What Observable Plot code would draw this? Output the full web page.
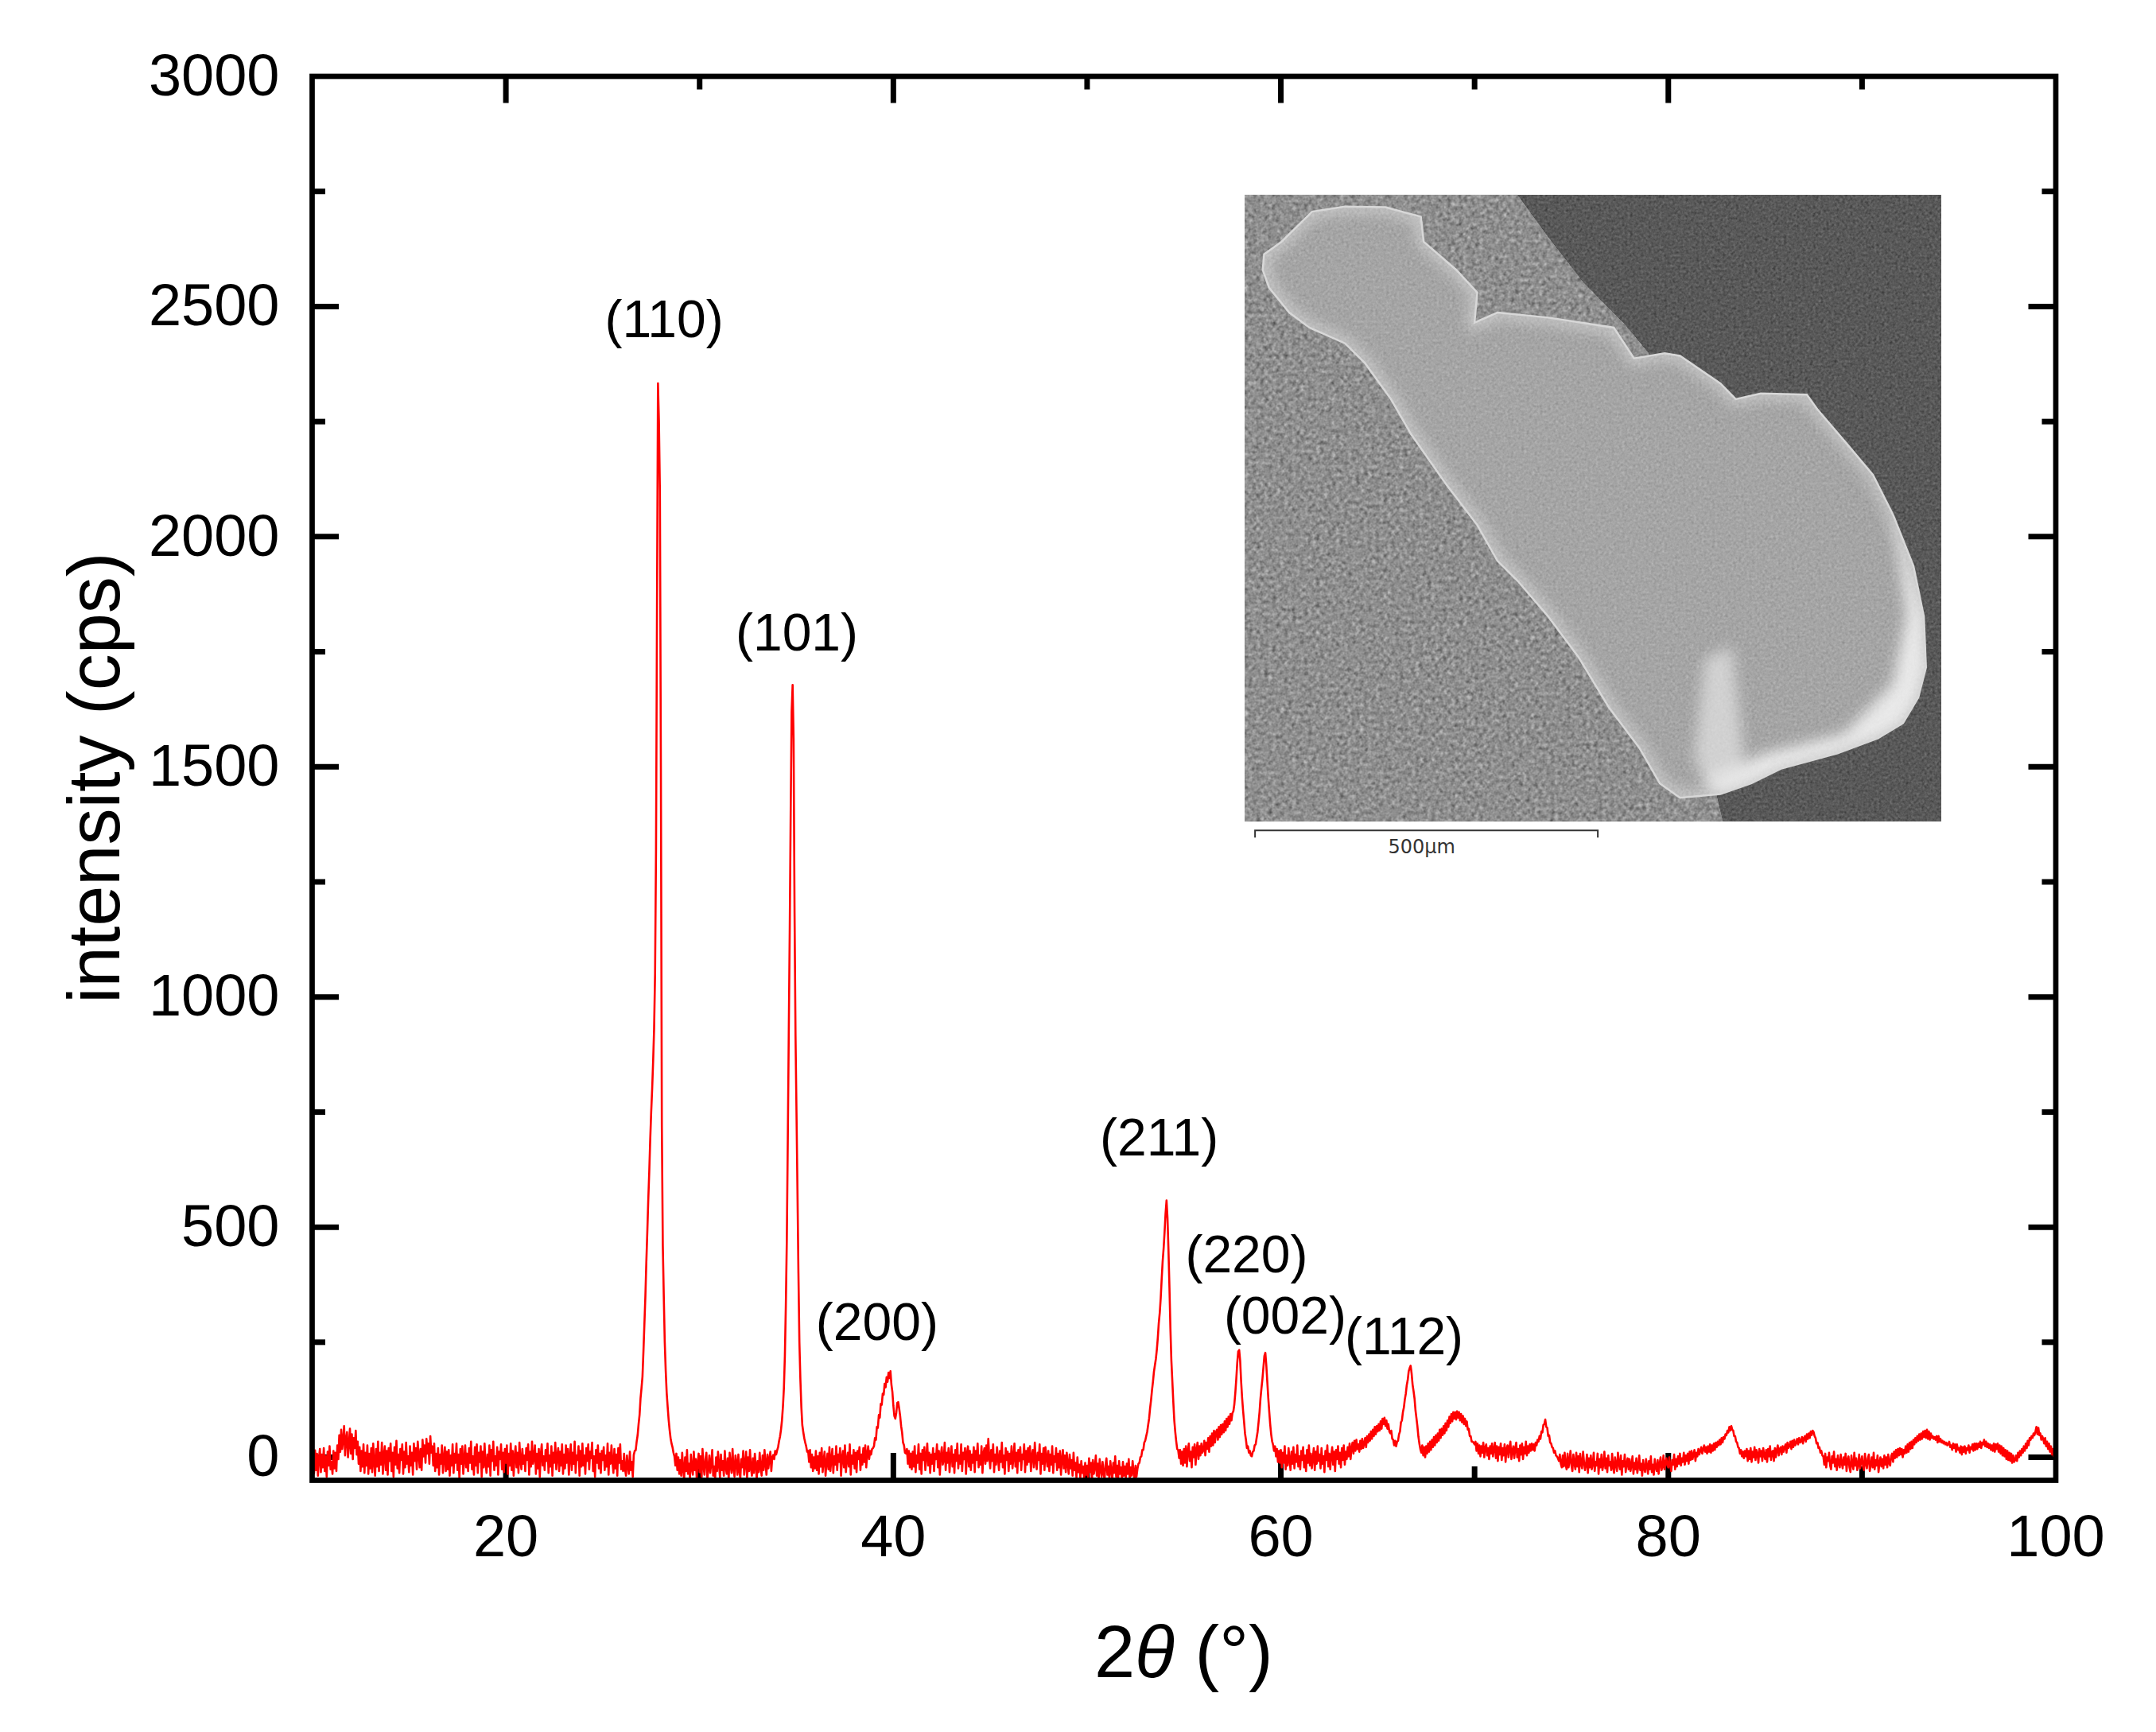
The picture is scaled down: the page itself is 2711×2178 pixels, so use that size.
<!DOCTYPE html>
<html>
<head>
<meta charset="utf-8">
<script src="https://cdn.jsdelivr.net/npm/d3@7"></script>
<script src="https://cdn.jsdelivr.net/npm/@observablehq/plot@0.6"></script>
<style>
  html, body { margin: 0; padding: 0; background: #ffffff; }
  svg { display: block; }
</style>
</head>
<body>
<script>
// ---------- data ----------
// XRD scan: 2θ from 10° to 100° in steps of 0.05°, intensity in cps.
const scanStart = 10;
const scanStep = 0.05;

const counts10 = [
  -45, 5, -35, 15, -28, 8, -40, -2, 18, -32, 6, -22, 20, -30, 2, -42, 12, -18, 24, -26,
  -10, -36, 14, -24, 10, -30, 26, -4, 48, 12, 60, 18, 38, 68, 4, 40, 55, 0, 30, 62,
  8, 50, -4, 42, 20, 58, 6, 34, -14, 22, -30, 14, -20, 28, -34, 10, -18, 26, -36, 8,
  -24, 20, -32, 30, -10, -40, 18, -20, 34, -30, 10, -16, 32, -36, 4, 24, -28, 14, -38, 20,
  -8, 30, -30, 10, -42, 22, -16, 36, -24, 6, -34, 18, -6, 28, -36, 12, -22, 32, -14, 2,
  -32, 24, -18, 10, -38, 30, -8, 20, -26, 34, 6, -22, 18, -28, 38, 2, 26, -12, 40, 8,
  30, -14, 46, 10, 24, -18, 30, -30, 8, -22, 20, -38, 6, -14, 26, -34, -2, 22, -30, 12,
  -26, 16, -40, 4, -18, 28, -34, 8, -12, 30, -28, 6, -45, 18, -14, 24, -36, -4, 26, -22,
  8, -30, 20, -12, 34, -26, 2, -38, 22, -18, 28, -34, 10, -10, 24, -42, 12, -22, 30, -14,
  -34, 6, -20, 26, -40, 16, -8, 34, -28, 2, -18, 22, -38, 12, -4, 28, -26, 10, -32, 18
];
const counts20 = [
  -12, 26, -36, 8, -18, 30, -28, 14, -40, 2, 24, -22, 10, -34, 32, -8, -26, 18, -14, 4,
  -30, 20, -6, 28, -38, 12, -20, 34, -14, -2, 26, -36, 8, -24, 18, -42, 6, 28, -18, 2,
  -28, 16, -8, 30, -34, 4, -20, 24, -40, 10, -12, 32, -26, 2, 20, -30, 12, -18, 28, -36,
  6, -24, 26, -12, 18, -38, 2, 28, -28, 10, -14, 34, -34, 4, -6, 24, -40, 14, -20, 30,
  -18, 4, -36, 20, -8, 28, -26, 12, -2, 32, -30, 2, -42, 16, -12, 26, -24, 8, -34, 14,
  -6, 22, -28, 4, -20, 30, -38, 10, -14, 26, -10, -34, 18, -24, 6, -40, 20, -12, 28, -26,
  -8, -30, 8, -26, -40, 4, -20, -36, 12, -28, -10, -42, 5, 14, 15, 34, 48, 72, 92, 128,
  150, 175, 230, 290, 350, 425, 490, 560, 620, 690, 750, 800, 860, 930, 1050, 1320, 1850, 2333, 2250, 2100,
  1500, 720, 460, 350, 250, 188, 140, 110, 82, 60, 42, 30, 22, 10, 2, -18, 8, -28, 0, -36,
  -6, -40, 10, -26, -48, 0, -30, 16, -36, -14, -45, 6, -24, -38, 12, -28, -4, -46, -12, 8
];
const counts30 = [
  -32, 2, -42, 18, -20, -38, -4, 10, -46, -24, 4, -34, -12, 16, -40, -20, -48, 0, -30, 12,
  -14, -44, 6, -28, -8, -40, 14, -22, -36, -2, -48, 10, -18, -34, 18, -24, -42, 4, -12, -38,
  6, -28, -46, -4, -22, 14, -38, -14, 12, -44, 0, -30, 16, -24, -40, -2, -34, 8, -18, -48,
  -8, -32, 10, -22, -40, 4, -28, 16, -14, -38, 6, -24, -4, 12, -30, 0, 5, -4, 14, 6,
  15, 22, 35, 45, 60, 80, 110, 150, 220, 330, 470, 685, 916, 1140, 1400, 1620, 1678, 1560, 1182, 916,
  750, 580, 400, 250, 170, 110, 70, 55, 42, 32, 24, 12, 14, -10, 16, -22, 6, -30, 0, -24,
  14, -28, 2, -36, 10, -20, 20, -32, -6, 12, -40, -12, 8, -26, 22, -30, -4, 18, -34, 2,
  -16, 24, -28, 6, -10, 20, -40, 0, 14, -22, 26, -32, -6, 10, -20, 28, -38, 4, -14, 16,
  -24, 10, -32, 14, -4, 22, -28, 6, -16, 20, -10, 26, -22, 8, 24, -4, 14, 6, 18, 20,
  24, 42, 38, 66, 64, 92, 86, 116, 114, 138, 136, 160, 152, 174, 164, 184, 172, 187, 158, 142
];
const counts40 = [
  112, 90, 84, 96, 118, 120, 106, 90, 68, 54, 32, 26, 10, 8, 18, -14, 14, -22, 8, -26,
  12, -20, 24, -32, 4, -12, 28, -26, 8, -36, 16, -6, 22, -28, 2, 30, -18, 10, -34, 6,
  -14, 20, -30, 8, -4, 28, -22, 14, -38, 4, 22, -16, -6, 32, -28, 10, -12, 20, -32, 2,
  24, -20, 6, -34, 16, -8, 30, -24, 4, -14, 28, -30, 10, -4, 20, -36, 8, 24, -20, 14,
  -28, 6, -12, 22, -32, 14, -6, 30, -22, 4, -16, 24, -34, 8, 20, -14, 26, -8, 40, 0,
  -24, 16, -8, 28, -32, 6, -16, 22, -2, -28, 14, -10, 32, -22, 4, -36, 20, -6, 12, -30,
  8, -14, 24, -24, 0, 30, -20, 10, -34, 16, -8, 22, -28, 6, -4, 28, -32, 14, -16, 20,
  -10, 24, -30, 4, 16, -22, 32, -8, -26, 10, -6, 28, -36, 8, -14, 20, -28, 22, 0, -20,
  14, -30, 6, -16, 24, -34, 2, -10, 20, -28, 8, -22, 14, -38, -4, 16, -24, 4, -32, 10,
  -14, -36, 6, -24, -6, -40, 10, -28, -12, -44, 0, -32, -16, -46, -8, -34, -20, -48, -12, -38
];
const counts50 = [
  -18, -44, -2, -32, -12, -48, -6, -36, -22, 4, -40, -14, -46, -4, -28, -42, -10, -34, -48, -16,
  -2, -38, -20, -46, -8, -30, -48, -12, -34, 2, -42, -18, -48, -8, -36, -22, -48, -10, -40, -20,
  -44, -14, -36, -4, -48, -22, -40, -8, -32, -48, -18, -42, -25, -14, -12, 0, 2, 16, 16, 32,
  36, 46, 55, 70, 84, 106, 124, 146, 164, 186, 200, 214, 234, 260, 292, 314, 346, 388, 426, 454,
  490, 530, 558, 520, 450, 370, 280, 210, 165, 120, 80, 55, 35, 18, 16, -2, 16, -14, 12, -18,
  18, -12, 24, -20, 14, 30, -8, 12, -22, 22, 0, 28, -16, 16, 32, -4, 24, 4, 30, 10,
  16, 36, 4, 32, 18, 42, 12, 46, 24, 52, 26, 58, 32, 54, 60, 38, 66, 44, 70, 50,
  72, 54, 78, 58, 84, 66, 88, 72, 94, 80, 96, 100, 115, 140, 170, 205, 230, 233, 210, 165,
  130, 102, 78, 52, 38, 20, 24, 10, 14, 4, 2, 12, 14, 26, 28, 42, 55, 76, 98, 128,
  150, 170, 195, 220, 227, 200, 165, 130, 100, 72, 50, 35, 27, 14, 24, 2, 18, -10, 14, -12
];
const counts60 = [
  16, -22, 10, -12, 24, -26, 4, -18, 20, -6, -28, 12, -14, 22, -24, 6, -10, 26, -20, 2,
  -26, 14, -6, 22, -22, 4, -30, 16, -12, 26, -18, 8, -24, -2, 20, -28, 12, -14, 24, -8,
  6, -24, 20, -14, 2, -32, 14, -6, 26, -20, 8, -26, 4, 22, -16, 12, -30, 16, -4, 24,
  -14, 10, -22, 20, -6, 26, -16, 12, -4, 22, 2, 30, -4, 20, 32, 8, 36, 14, 38, 18,
  28, 12, 36, 18, 40, 20, 30, 42, 22, 46, 32, 50, 36, 56, 40, 60, 46, 66, 50, 68,
  56, 72, 58, 78, 62, 84, 72, 86, 68, 80, 62, 72, 56, 52, 58, 40, 38, 26, 36, 24,
  34, 36, 50, 56, 76, 80, 98, 108, 126, 138, 157, 168, 187, 194, 199, 182, 158, 144, 128, 102,
  85, 67, 45, 30, 18, 10, 26, 4, 22, 0, 24, 8, 30, 12, 34, 16, 38, 22, 44, 26,
  48, 32, 52, 36, 60, 42, 62, 48, 68, 52, 74, 58, 80, 66, 88, 74, 94, 78, 98, 84,
  98, 82, 100, 86, 98, 80, 94, 76, 90, 72, 84, 68, 78, 60, 62, 46, 46, 34, 34, 32
];
const counts70 = [
  28, 34, 14, 30, 8, 26, 2, 24, 10, 32, 0, 22, 28, 4, 20, -4, 24, 8, 30, 2,
  18, 32, -2, 24, -8, 22, 6, 30, -6, 20, 4, 28, -10, 18, 26, 0, 22, 34, -4, 14,
  24, -2, 20, 32, 0, 18, -8, 26, 6, 30, -4, 22, 8, 34, 4, 24, 10, 28, 14, 30,
  16, 28, 14, 32, 26, 38, 34, 46, 40, 56, 54, 70, 72, 82, 66, 64, 46, 48, 32, 30,
  22, 20, 10, 14, 4, 2, -2, -8, 6, -14, -22, 4, -20, 10, -16, -26, 8, -22, -8, 14,
  -18, -30, 6, -12, -26, 10, -20, 2, -32, 8, -14, -24, 12, -10, -28, -16, 6, -34, -2, -22,
  4, -26, -14, 10, -30, -10, -18, 8, -36, -4, -22, 6, -28, -16, 12, -24, -2, -32, 4, -18,
  -10, -28, 8, -22, -34, 0, -16, -30, 10, -14, -26, 4, -38, -8, -20, 6, -32, -14, -2, -26,
  -4, -30, -16, 2, -36, -12, -26, -2, -34, -20, 4, -28, -14, -40, -6, -24, -32, -4, -18, -36,
  -8, -26, 2, -32, -16, -38, -4, -22, -30, -6, -36, -14, 0, -28, -20, 4, -26, -12, -2, -18
];
const counts80 = [
  -22, 0, -18, -30, -6, -16, 6, -26, -4, -20, 2, -14, 8, -18, -2, -10, 10, -16, 4, -8,
  8, -14, 12, -6, 14, -4, 6, 16, -8, 10, 2, 18, 6, 14, 22, 8, 18, 26, 12, 22,
  8, 24, 12, 28, 10, 26, 14, 30, 16, 32, 22, 34, 26, 38, 28, 42, 32, 44, 40, 50,
  48, 58, 54, 66, 58, 68, 60, 58, 46, 46, 34, 32, 22, 20, 8, 16, 2, 12, -2, 14,
  2, 18, -8, 14, -4, 20, -10, 12, 0, 22, -6, 16, 8, -12, 18, 2, 14, -8, 20, 4,
  -4, 16, -10, 18, 2, 24, -6, 12, 14, -8, 20, 0, 16, 26, 4, 18, 22, 6, 24, 12,
  22, 28, 10, 32, 20, 24, 34, 18, 36, 22, 38, 26, 32, 40, 28, 42, 32, 34, 44, 30,
  42, 46, 34, 50, 40, 52, 42, 56, 48, 58, 55, 46, 42, 30, 32, 20, 22, 10, 14, 4,
  2, -16, 8, -22, 0, -8, 10, -18, -26, 2, -12, 12, -20, -4, -28, 4, -14, -22, 6, -12,
  -24, 0, -16, 8, -30, -6, 2, -22, -32, 4, -14, -26, 10, -18, -2, -28, -16, 6, -24, -10
];
const counts90 = [
  2, -20, -28, 8, -14, -24, -2, 6, -30, -16, 0, -22, 10, -26, -6, -18, 4, -32, -12, 0,
  -20, -4, -24, 4, -16, 0, -22, 6, -12, -18, 2, 8, -10, 12, -2, 16, 0, 18, 4, 20,
  6, 18, 0, 16, 8, 24, 10, 28, 12, 32, 18, 34, 20, 38, 28, 42, 32, 46, 36, 50,
  38, 52, 40, 56, 44, 58, 42, 60, 40, 56, 38, 52, 42, 46, 40, 44, 38, 46, 32, 46,
  34, 40, 32, 36, 30, 34, 28, 32, 26, 28, 34, 22, 26, 16, 30, 20, 28, 12, 28, 16,
  20, 10, 24, 6, 22, 12, 24, 8, 20, 16, 26, 10, 22, 18, 28, 14, 30, 16, 30, 18,
  30, 22, 34, 20, 32, 28, 38, 24, 34, 22, 30, 20, 28, 16, 26, 14, 30, 12, 28, 18,
  30, 12, 26, 8, 24, 4, 20, 2, 16, -4, 14, -6, 10, -8, 8, -12, 4, -10, -6, 4,
  -8, 10, 0, 14, 4, 18, 10, 24, 14, 30, 20, 36, 26, 42, 38, 46, 42, 52, 48, 56,
  66, 50, 64, 48, 52, 38, 46, 40, 30, 42, 24, 34, 18, 30, 12, 24, 6, 18, 2, 10
];
const counts100 = [4];

// axis ticks
const xTickLabels = [20, 40, 60, 80, 100];
const xMajorTicks = [20, 40, 60, 80];
const xMinorTicks = [30, 50, 70, 90];
const yTickLabels = [0, 500, 1000, 1500, 2000, 2500, 3000];
const yMajorTicks = [0, 500, 1000, 1500, 2000, 2500];
const yMinorTicks = [250, 750, 1250, 1750, 2250, 2750];

// peak annotations (Miller indices) and where they sit (2θ, cps)
const peakLabels = ["(110)", "(101)", "(200)", "(211)", "(220)", "(002)", "(112)"];
const peakLabelAngle = [28.17, 35.02, 39.16, 53.72, 58.23, 60.22, 66.36];
const peakLabelCounts = [2433, 1753, 255, 656, 401, 268, 224];

// SEM inset placement in data units (2θ span, cps span)
const insetAngle = [58.15, 94.11];
const insetCounts = [2742, 1380];

// ---------- build ----------
const blocks = {counts10, counts20, counts30, counts40, counts50, counts60, counts70, counts80, counts90};
for (const [name, arr] of Object.entries(blocks)) {
  if (arr.length !== 200) throw new Error(name + " has " + arr.length + " values");
}
const counts = [...counts10, ...counts20, ...counts30, ...counts40, ...counts50,
                ...counts60, ...counts70, ...counts80, ...counts90, ...counts100];
const scan = counts.map((c, i) => ({angle: +(scanStart + i * scanStep).toFixed(2), cps: c}));

const W = 2711, H = 2178;
const mL = 392, mR = 126.5, mT = 95.5, mB = 317;
const innerW = W - mL - mR, innerH = H - mT - mB;
const FONT = "'Liberation Sans', Arial, Helvetica, sans-serif";
const majorLen = 34, minorLen = 17, tickW = 7;

// SEM picture shapes, in fractions of the inset box
const tapeOutline = [[0,0],[0.392,0],[0.436,0.067],[0.487,0.14],[0.545,0.205],[0.58,0.252],[0.65,0.5],[0.66,0.75],[0.67,0.92],[0.687,1],[0,1]];
const flakeOutline = [[0.028,0.095],[0.053,0.075],[0.097,0.027],[0.144,0.019],[0.202,0.02],[0.253,0.035],[0.257,0.075],[0.304,0.12],[0.334,0.156],[0.33,0.204],[0.363,0.188],[0.436,0.196],[0.53,0.212],[0.559,0.261],[0.603,0.253],[0.625,0.257],[0.683,0.301],[0.705,0.326],[0.741,0.317],[0.807,0.319],[0.822,0.342],[0.865,0.398],[0.902,0.447],[0.931,0.511],[0.96,0.592],[0.975,0.673],[0.978,0.754],[0.967,0.802],[0.945,0.843],[0.909,0.867],[0.851,0.891],[0.771,0.915],[0.727,0.939],[0.683,0.956],[0.625,0.962],[0.596,0.939],[0.567,0.883],[0.523,0.818],[0.479,0.737],[0.436,0.673],[0.392,0.616],[0.363,0.584],[0.334,0.527],[0.29,0.463],[0.239,0.382],[0.21,0.326],[0.173,0.269],[0.144,0.237],[0.093,0.212],[0.064,0.188],[0.035,0.148],[0.026,0.12]];
const flakeStreak = [[0.66,0.74],[0.70,0.72],[0.72,0.93],[0.67,0.955],[0.645,0.9]];
const flakeBrightRim = [[0.93,0.5],[0.975,0.673],[0.978,0.754],[0.967,0.802],[0.945,0.843],[0.909,0.867],[0.851,0.891],[0.771,0.915],[0.727,0.939],[0.683,0.956],[0.66,0.93],[0.75,0.89],[0.86,0.86],[0.93,0.78],[0.95,0.67]];

function semInset(index, scales) {
  const x0 = scales.x(insetAngle[0]), x1 = scales.x(insetAngle[1]);
  const y0 = scales.y(insetCounts[0]), y1 = scales.y(insetCounts[1]);
  const w = x1 - x0, h = y1 - y0;
  const pts = (arr) => arr.map(([u, v]) => `${x0 + u * w},${y0 + v * h}`).join(" ");
  const g = d3.create("svg:g");
  const defs = g.append("defs");
  const grain = (id, freq, amount) => {
    const f = defs.append("filter").attr("id", id).attr("x", 0).attr("y", 0)
      .attr("width", "100%").attr("height", "100%").attr("color-interpolation-filters", "sRGB");
    f.append("feTurbulence").attr("type", "fractalNoise").attr("baseFrequency", freq)
      .attr("numOctaves", 2).attr("seed", 7).attr("result", "noise");
    f.append("feColorMatrix").attr("in", "noise").attr("type", "matrix")
      .attr("values", "0.33 0.33 0.33 0 0  0.33 0.33 0.33 0 0  0.33 0.33 0.33 0 0  0 0 0 0 1")
      .attr("result", "gray");
    f.append("feComposite").attr("in", "SourceGraphic").attr("in2", "gray").attr("operator", "arithmetic")
      .attr("k1", 0).attr("k2", 1).attr("k3", amount).attr("k4", -amount / 2).attr("result", "mix");
    f.append("feComposite").attr("in", "mix").attr("in2", "SourceGraphic").attr("operator", "in");
  };
  grain("semGrainTape", 0.2, 0.8);
  grain("semGrainDark", 0.3, 0.45);
  grain("semGrainFlake", 0.3, 0.3);
  const f2 = defs.append("filter").attr("id", "semSoft").attr("x", "-30%").attr("y", "-30%")
    .attr("width", "160%").attr("height", "160%");
  f2.append("feGaussianBlur").attr("stdDeviation", 9);
  const cp = defs.append("clipPath").attr("id", "semClip");
  cp.append("rect").attr("x", x0).attr("y", y0).attr("width", w).attr("height", h);
  const cpf = defs.append("clipPath").attr("id", "flakeClip");
  cpf.append("polygon").attr("points", pts(flakeOutline));

  const pic = g.append("g").attr("clip-path", "url(#semClip)");
  pic.append("rect").attr("x", x0).attr("y", y0).attr("width", w).attr("height", h)
    .attr("fill", "#595959").attr("filter", "url(#semGrainDark)");
  pic.append("polygon").attr("points", pts(tapeOutline)).attr("fill", "#8f8f8f")
    .attr("filter", "url(#semGrainTape)");
  pic.append("polygon").attr("points", pts(flakeOutline)).attr("fill", "#a5a5a5")
    .attr("filter", "url(#semGrainFlake)");
  const lit = pic.append("g").attr("clip-path", "url(#flakeClip)");
  lit.append("polygon").attr("points", pts(flakeOutline)).attr("fill", "none")
    .attr("stroke", "#e8e8e8").attr("stroke-width", 16).attr("opacity", 0.55).attr("filter", "url(#semSoft)");
  lit.append("polygon").attr("points", pts(flakeBrightRim)).attr("fill", "#f4f4f4")
    .attr("opacity", 0.85).attr("filter", "url(#semSoft)");
  lit.append("polygon").attr("points", pts(flakeStreak)).attr("fill", "#e4e4e4")
    .attr("opacity", 0.7).attr("filter", "url(#semSoft)");
  pic.append("polygon").attr("points", pts(flakeOutline)).attr("fill", "none")
    .attr("stroke", "#d8d8d8").attr("stroke-width", 2.5);

  // scale bar and its label, part of the micrograph
  const by = y1 + 11, bx0 = x0 + 0.015 * w, bx1 = x0 + 0.507 * w;
  g.append("path").attr("d", `M${bx0},${by + 9}V${by}H${bx1}V${by + 9}`)
    .attr("fill", "none").attr("stroke", "#333").attr("stroke-width", 2);
  g.append("text").attr("x", (bx0 + bx1) / 2 - 6).attr("y", by + 29).attr("text-anchor", "middle")
    .attr("font-family", "'DejaVu Sans', sans-serif").attr("font-size", 24).attr("fill", "#333")
    .text("500μm");
  return g.node();
}

function axisTitles(index, scales, values, dims) {
  const g = d3.create("svg:g").attr("font-family", FONT).attr("fill", "black");
  const cx = (dims.marginLeft + dims.width - dims.marginRight) / 2;
  const cy = (dims.marginTop + dims.height - dims.marginBottom) / 2;
  const t = g.append("text").attr("x", cx).attr("y", dims.height - dims.marginBottom + 248)
    .attr("text-anchor", "middle").attr("font-size", 92);
  t.append("tspan").text("2");
  t.append("tspan").attr("font-style", "italic").text("θ");
  t.append("tspan").text(" (°)");
  g.append("text").attr("transform", `translate(150,${cy}) rotate(-90)`)
    .attr("text-anchor", "middle").attr("font-size", 92).text("intensity (cps)");
  return g.node();
}

const plot = Plot.plot({
  width: W, height: H,
  marginLeft: mL, marginRight: mR, marginTop: mT, marginBottom: mB,
  x: {domain: [10, 100]},
  y: {domain: [-50, 3000]},
  style: {fontFamily: FONT, background: "white", color: "black"},
  marks: [
    // inward ticks on all four sides
    Plot.tickX(xMajorTicks, {x: d => d, stroke: "black", strokeWidth: tickW, insetTop: innerH - majorLen}),
    Plot.tickX(xMinorTicks, {x: d => d, stroke: "black", strokeWidth: tickW, insetTop: innerH - minorLen}),
    Plot.tickX(xMajorTicks, {x: d => d, stroke: "black", strokeWidth: tickW, insetBottom: innerH - majorLen}),
    Plot.tickX(xMinorTicks, {x: d => d, stroke: "black", strokeWidth: tickW, insetBottom: innerH - minorLen}),
    Plot.tickY(yMajorTicks, {y: d => d, stroke: "black", strokeWidth: tickW, insetRight: innerW - majorLen}),
    Plot.tickY(yMinorTicks, {y: d => d, stroke: "black", strokeWidth: tickW, insetRight: innerW - minorLen}),
    Plot.tickY(yMajorTicks, {y: d => d, stroke: "black", strokeWidth: tickW, insetLeft: innerW - majorLen}),
    Plot.tickY(yMinorTicks, {y: d => d, stroke: "black", strokeWidth: tickW, insetLeft: innerW - minorLen}),
    semInset,
    Plot.line(scan, {x: "angle", y: "cps", stroke: "#ff0000", strokeWidth: 2.6, clip: true}),
    Plot.frame({stroke: "black", strokeWidth: 6.7}),
    Plot.text(peakLabels, {
      x: (d, i) => peakLabelAngle[i], y: (d, i) => peakLabelCounts[i], text: d => d,
      fontSize: 66, lineAnchor: "bottom", textAnchor: "middle", fill: "black"
    }),
    Plot.axisX({ticks: xTickLabels, tickSize: 0, tickPadding: 43, fontSize: 74, label: null, tickFormat: d => String(d)}),
    Plot.axisY({ticks: yTickLabels, tickSize: 0, tickPadding: 41, fontSize: 74, label: null, tickFormat: d => String(d)}),
    axisTitles
  ]
});
document.body.appendChild(plot);
</script>
</body>
</html>
